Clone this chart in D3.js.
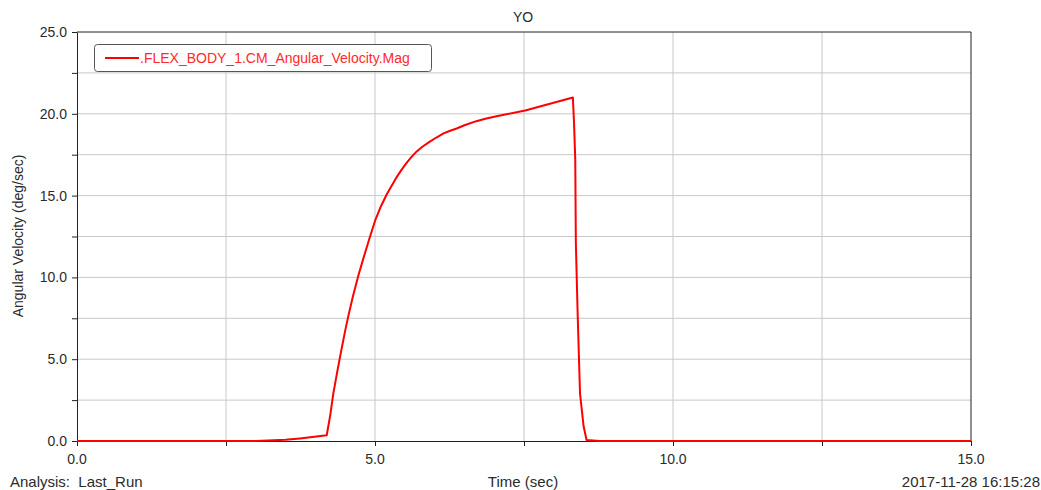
<!DOCTYPE html>
<html>
<head>
<meta charset="utf-8">
<script src="https://cdn.jsdelivr.net/npm/d3@7/dist/d3.min.js"></script>
<style>
  body { margin: 0; background: #fff; }
  svg { display: block; font-family: "Liberation Sans", Arial, sans-serif; }
</style>
</head>
<body>
<svg id="chart" width="1041" height="490"></svg>
<script>
// curve: time (sec) vs angular velocity magnitude (deg/sec)
const timeVals = [0, 3.0, 3.3, 3.5, 3.74, 4.19, 4.25, 4.30, 4.37, 4.44, 4.50, 4.55, 4.63, 4.72, 4.80, 4.90, 5.0,
                  5.1, 5.2, 5.35, 5.45, 5.53, 5.62, 5.7, 5.8, 5.92, 6.03, 6.15, 6.25, 6.37, 6.5, 6.7, 6.85, 7.04, 7.52, 8.32,
                  8.34, 8.36, 8.37, 8.40, 8.44, 8.50, 8.55, 8.77, 15.0];
const velVals  = [0, 0, 0.05, 0.07, 0.16, 0.35, 1.6, 2.9, 4.3, 5.65, 6.75, 7.6, 8.85, 10.1, 11.1, 12.3, 13.45,
                  14.35, 15.1, 16.05, 16.6, 17.0, 17.4, 17.7, 18.0, 18.3, 18.55, 18.8, 18.95, 19.1, 19.3, 19.55, 19.7, 19.85, 20.2, 21.0,
                  19.4, 17.2, 12.1, 7.8, 2.9, 0.9, 0.06, 0, 0];
const xGrid = [0, 2.5, 5, 7.5, 10, 12.5, 15];
const yGrid = [0, 2.5, 5, 7.5, 10, 12.5, 15, 17.5, 20, 22.5, 25];
const xLabels = [0, 5, 10, 15];
const yLabels = [0, 5, 10, 15, 20, 25];
const seriesName = ".FLEX_BODY_1.CM_Angular_Velocity.Mag";

const svg = d3.select('#chart');
const m = { left: 77, right: 971, top: 32, bottom: 441 };
const x = d3.scaleLinear().domain([0, 15]).range([m.left, m.right]);
const y = d3.scaleLinear().domain([0, 25]).range([m.bottom, m.top]);
const textCol = '#2b2b2b';

// grid
svg.append('g').selectAll('line.v').data(xGrid.slice(1, -1)).join('line')
  .attr('x1', d => x(d)).attr('x2', d => x(d)).attr('y1', m.top).attr('y2', m.bottom)
  .attr('stroke', '#c8c8c8').attr('stroke-width', 1);
svg.append('g').selectAll('line.h').data(yGrid.slice(1, -1)).join('line')
  .attr('x1', m.left).attr('x2', m.right).attr('y1', d => y(d)).attr('y2', d => y(d))
  .attr('stroke', '#c8c8c8').attr('stroke-width', 1);

// frame: top and right edges
svg.append('path')
  .attr('d', `M${m.left},${m.top}H${m.right}V${m.bottom}`)
  .attr('fill', 'none').attr('stroke', '#222').attr('stroke-width', 1);

// axes
const xAxis = svg.append('g').attr('transform', `translate(0,${m.bottom})`)
  .call(d3.axisBottom(x).tickValues(xGrid).tickSize(5).tickSizeOuter(0).tickFormat(''));
const yAxis = svg.append('g').attr('transform', `translate(${m.left},0)`)
  .call(d3.axisLeft(y).tickValues(yGrid).tickSize(5).tickSizeOuter(0).tickFormat(''));
[xAxis, yAxis].forEach(a => a.selectAll('path, line').attr('stroke', '#222'));

svg.append('g').selectAll('text').data(xLabels).join('text')
  .attr('x', d => x(d)).attr('y', m.bottom + 23)
  .attr('text-anchor', 'middle').attr('font-size', 14).attr('fill', textCol)
  .text(d => d.toFixed(1));
svg.append('g').selectAll('text').data(yLabels).join('text')
  .attr('x', m.left - 10).attr('y', d => y(d) + 5)
  .attr('text-anchor', 'end').attr('font-size', 14).attr('fill', textCol)
  .text(d => d.toFixed(1));

// series
const pts = timeVals.map((t, i) => [t, velVals[i]]);
svg.append('path').datum(pts)
  .attr('d', d3.line().x(d => x(d[0])).y(d => y(d[1])))
  .attr('fill', 'none').attr('stroke', '#ff0000').attr('stroke-width', 2)
  .attr('stroke-linejoin', 'round');

// legend
const lg = svg.append('g');
lg.append('rect').attr('x', 94.5).attr('y', 44.5).attr('width', 337).attr('height', 27)
  .attr('rx', 3).attr('fill', '#fff').attr('stroke', '#555').attr('stroke-width', 1);
lg.append('line').attr('x1', 105).attr('x2', 139).attr('y1', 58).attr('y2', 58)
  .attr('stroke', '#ff0000').attr('stroke-width', 2);
lg.append('text').attr('x', 140).attr('y', 63).attr('font-size', 14).attr('fill', '#ff2a2a')
  .text(seriesName);

// titles
svg.append('text').attr('x', 523).attr('y', 22).attr('text-anchor', 'middle')
  .attr('font-size', 14).attr('fill', textCol).text('YO');
svg.append('text').attr('transform', 'translate(23,236) rotate(-90)')
  .attr('text-anchor', 'middle').attr('font-size', 14).attr('fill', textCol)
  .text('Angular Velocity (deg/sec)');
svg.append('text').attr('x', 523).attr('y', 487).attr('text-anchor', 'middle')
  .attr('font-size', 15).attr('fill', textCol).text('Time (sec)');
svg.append('text').attr('x', 10).attr('y', 487).attr('font-size', 15).attr('fill', textCol)
  .attr('xml:space', 'preserve').style('white-space', 'pre').text('Analysis:  Last_Run');
svg.append('text').attr('x', 1040).attr('y', 487).attr('text-anchor', 'end')
  .attr('font-size', 15).attr('fill', textCol).text('2017-11-28 16:15:28');
</script>
</body>
</html>
